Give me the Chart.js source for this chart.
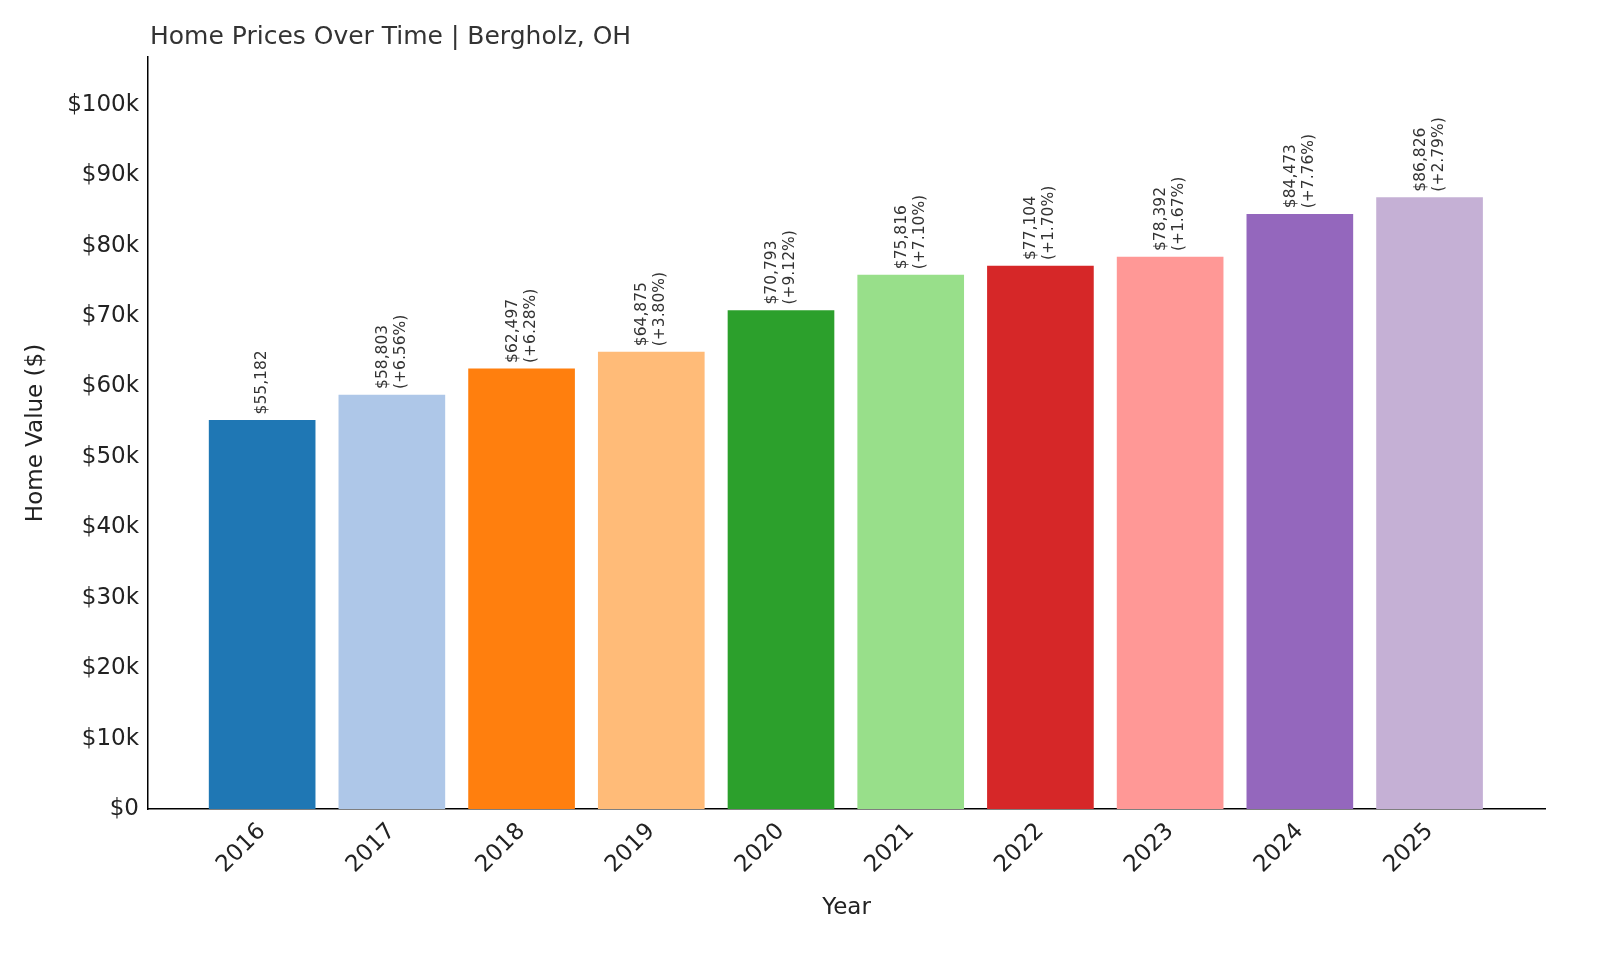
<!DOCTYPE html>
<html><head><meta charset="utf-8">
<script src="https://cdn.jsdelivr.net/npm/chart.js@4"></script>
<style>body{margin:0;background:#fff}#w{width:1600px;height:960px}</style>
</head><body><div id="w"><canvas id="c"></canvas></div>
<script>
const years=[2016,2017,2018,2019,2020,2021,2022,2023,2024,2025];
const values=[55182,58803,62497,64875,70793,75816,77104,78392,84473,86826];
const changes=[null,"+6.56%","+6.28%","+3.80%","+9.12%","+7.10%","+1.70%","+1.67%","+7.76%","+2.79%"];
const colors=["#1f77b4","#aec7e8","#ff7f0e","#ffbb78","#2ca02c","#98df8a","#d62728","#ff9896","#9467bd","#c5b0d5"];
const F="'DejaVu Sans', sans-serif";
const labelPlugin={id:'lbl',afterDatasetsDraw(ch){
  const ctx=ch.ctx,meta=ch.getDatasetMeta(0);
  ctx.save();ctx.fillStyle='#333';ctx.font='15.5px '+F;ctx.textBaseline='middle';ctx.textAlign='left';
  meta.data.forEach((b,i)=>{
    ctx.save();ctx.translate(b.x,b.y-6);ctx.rotate(-Math.PI/2);
    const v='$'+values[i].toLocaleString('en-US');
    if(changes[i]){ctx.fillText(v,0,-9);ctx.fillText('('+changes[i]+')',0,9);}
    else ctx.fillText(v,0,0);
    ctx.restore();
  });
  ctx.font='25px '+F;ctx.fillStyle='#333';ctx.textBaseline='alphabetic';
  ctx.fillText('Home Prices Over Time | Bergholz, OH',150,44);
  ctx.restore();
}};
new Chart(document.getElementById('c'),{
  type:'bar',
  data:{datasets:[{data:years.map((y,i)=>({x:y,y:values[i]})),backgroundColor:colors,barThickness:106}]},
  options:{responsive:true,maintainAspectRatio:false,animation:false,
    layout:{padding:{top:57,right:55,left:22,bottom:0}},
    plugins:{legend:{display:false},tooltip:{enabled:false}},
    scales:{
      x:{type:'linear',offset:false,min:2015.12,max:2025.89,
        afterBuildTicks:s=>{s.ticks=years.map(v=>({value:v}));},
        afterFit:s=>{s.height=151;},
        grid:{display:false,drawTicks:true,tickLength:6,color:'#000'},border:{color:'#000',width:1.5},
        ticks:{color:'#222',font:{size:23,family:F},minRotation:45,maxRotation:45,callback:v=>String(v)},
        title:{display:true,text:'Year',color:'#222',font:{size:23,family:F},padding:{top:0,bottom:38}}},
      y:{min:0,max:106800,
        afterBuildTicks:s=>{s.ticks=[0,1,2,3,4,5,6,7,8,9,10].map(v=>({value:v*10000}));},
        afterFit:s=>{s.width=126;},
        grid:{display:false,drawTicks:true,tickLength:6,color:'#000'},border:{color:'#000',width:1.5},
        ticks:{color:'#222',font:{size:23,family:F},callback:v=>v===0?'$0':'$'+(v/1000)+'k'},
        title:{display:true,text:'Home Value ($)',color:'#222',font:{size:23,family:F},padding:0}}
    }},
  plugins:[labelPlugin]
});
</script></body></html>
